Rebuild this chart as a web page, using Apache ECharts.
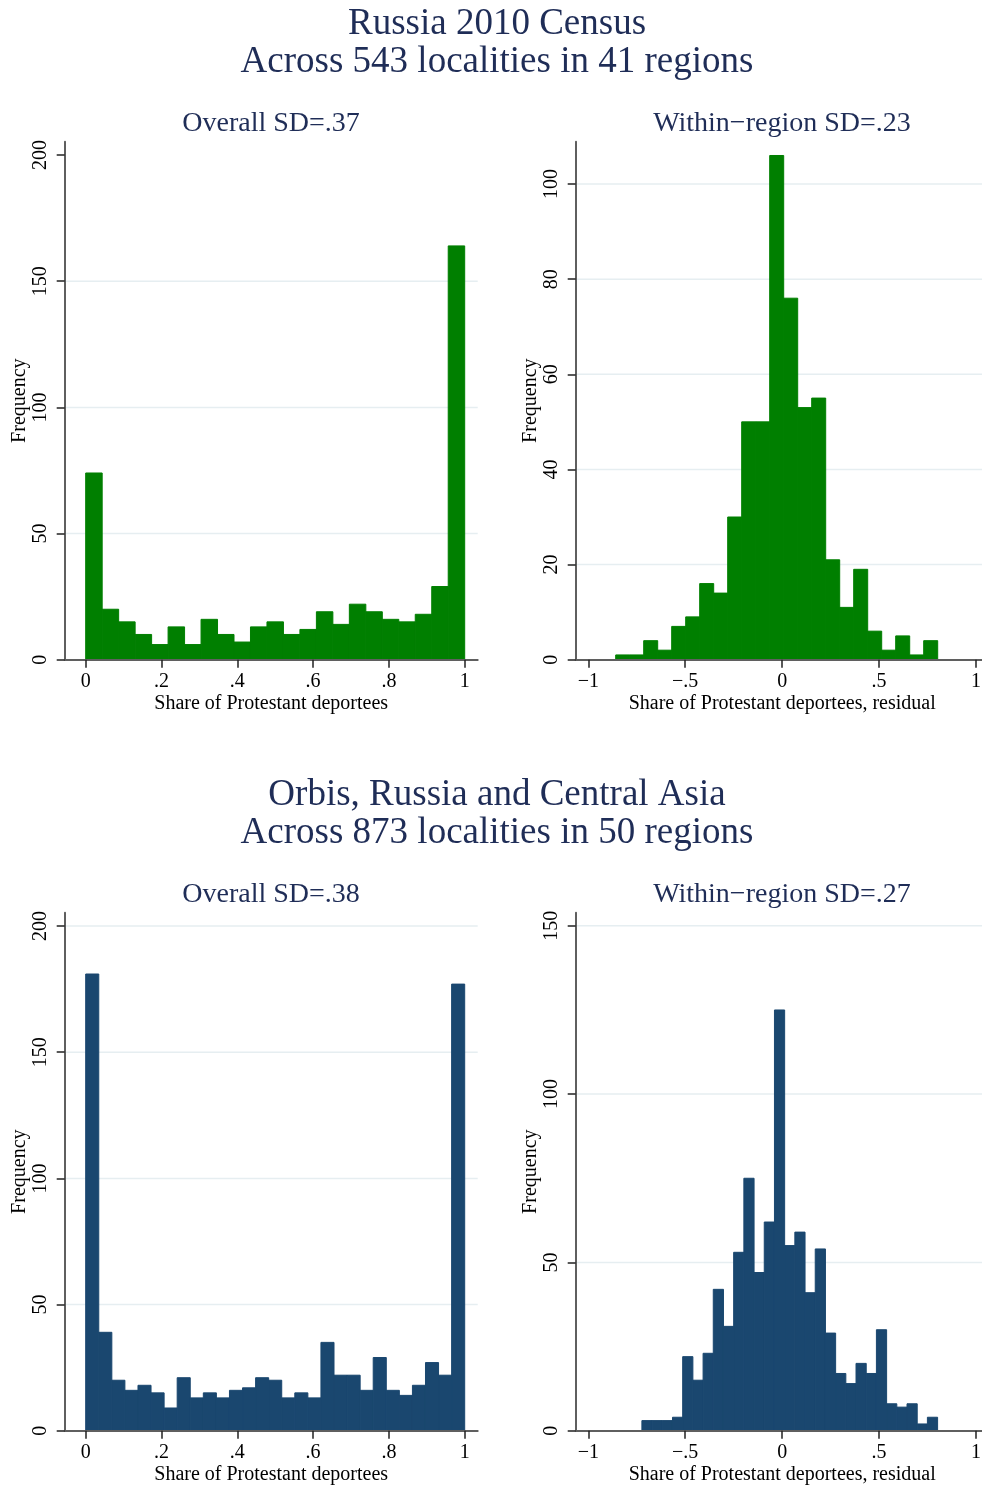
<!DOCTYPE html>
<html><head><meta charset="utf-8">
<script src="https://cdn.jsdelivr.net/npm/echarts@6/dist/echarts.min.js"></script>
<style>html,body{margin:0;padding:0;background:#fff}#c{width:982px;height:1485px}</style>
</head><body><div id="c"></div>
<script>
// ---------- data ----------
const censusOverallCounts = [74,20,15,10,6,13,6,16,10,7,13,15,10,12,19,14,22,19,16,15,18,29,164];
const censusOverallBinStart = 0;
const censusOverallBinWidth = 1 / 23;

const censusResidCounts = [1,1,4,2,7,9,16,14,30,50,50,106,76,53,55,21,11,19,6,2,5,1,4];
const censusResidBinStart = -0.8587;
const censusResidBinWidth = 0.07222;

const orbisOverallCounts = [181,39,20,16,18,15,9,21,13,15,13,16,17,21,20,13,15,13,35,22,22,16,29,16,14,18,27,22,177];
const orbisOverallBinStart = 0;
const orbisOverallBinWidth = 1 / 29;

const orbisResidCounts = [3,3,3,4,22,15,23,42,31,53,75,47,62,125,55,59,41,54,29,17,14,20,17,30,8,7,8,2,4];
const orbisResidBinStart = -0.7235;
const orbisResidBinWidth = 0.0526;

const xTicksShare = [0, 0.2, 0.4, 0.6, 0.8, 1];
const xTickLabelsShare = ['0', '.2', '.4', '.6', '.8', '1'];
const xTicksResid = [-1, -0.5, 0, 0.5, 1];
const xTickLabelsResid = ['\u22121', '\u2212.5', '0', '.5', '1'];

const yTicksCensusOverall = [0, 50, 100, 150, 200];
const yTicksCensusResid = [0, 20, 40, 60, 80, 100];
const yTicksOrbisOverall = [0, 50, 100, 150, 200];
const yTicksOrbisResid = [0, 50, 100, 150];

const gridCensusOverall = [50, 100, 150];
const gridCensusResid = [20, 40, 60, 80, 100];
const gridOrbisOverall = [50, 100, 150, 200];
const gridOrbisResid = [50, 100, 150];

// ---------- styles ----------
const FONT = '"Liberation Serif", "DejaVu Serif", serif';
const TITLE_COLOR = '#1f2d57';
const GREEN = '#007f00';
const NAVY = '#1a476f';

function makeBins(counts, start, width) {
  return counts.map((c, i) => [start + i * width, start + (i + 1) * width, c]);
}
function labelFor(ticks, labels) {
  return function (v) {
    for (let i = 0; i < ticks.length; i++) if (Math.abs(ticks[i] - v) < 1e-9) return labels[i];
    return '';
  };
}
function xAxisCfg(gi, min, max, ticks, labels, name) {
  return {
    type: 'value', gridIndex: gi, min: min, max: max, z: 3,
    axisLine: { show: true, onZero: false, lineStyle: { color: '#5f5f5f', width: 2 } },
    axisTick: { show: true, length: 8, customValues: ticks, lineStyle: { color: '#222', width: 1.5 } },
    axisLabel: { customValues: ticks, formatter: labelFor(ticks, labels), fontFamily: FONT, fontSize: 20, color: '#000', margin: 12 },
    splitLine: { show: false },
    name: name, nameLocation: 'middle', nameGap: 34,
    nameTextStyle: { fontFamily: FONT, fontSize: 20, color: '#000' }
  };
}
function yAxisCfg(gi, max, ticks) {
  const labels = ticks.map(String);
  return {
    type: 'value', gridIndex: gi, min: 0, max: max, z: 3,
    axisLine: { show: true, onZero: false, lineStyle: { color: '#5f5f5f', width: 2 } },
    axisTick: { show: true, length: 8, customValues: ticks, lineStyle: { color: '#222', width: 1.5 } },
    axisLabel: { customValues: ticks, formatter: labelFor(ticks, labels), rotate: 90, fontFamily: FONT, fontSize: 20, color: '#000', margin: 14 },
    splitLine: { show: false },
    name: 'Frequency', nameLocation: 'middle', nameGap: 34, nameRotate: 90,
    nameTextStyle: { fontFamily: FONT, fontSize: 20, color: '#000' }
  };
}
function histSeries(gi, data, color) {
  return {
    type: 'custom', xAxisIndex: gi, yAxisIndex: gi, z: 2, silent: true,
    data: data,
    renderItem: function (params, api) {
      const p0 = api.coord([api.value(0), 0]);
      const p1 = api.coord([api.value(1), api.value(2)]);
      return { type: 'rect', shape: { x: p0[0], y: p1[1], width: p1[0] - p0[0], height: p0[1] - p1[1] },
        style: { fill: color, stroke: color, lineWidth: 1 } };
    }
  };
}
function gridSeries(gi, vals) {
  return {
    type: 'custom', xAxisIndex: gi, yAxisIndex: gi, z: 1, silent: true,
    data: vals.map(v => [v]),
    renderItem: function (params, api) {
      const cs = params.coordSys;
      const y = api.coord([0, api.value(0)])[1];
      return { type: 'line', shape: { x1: cs.x, y1: y, x2: cs.x + cs.width, y2: y },
        style: { stroke: '#e6eef1', lineWidth: 1.5 } };
    },
    encode: { y: 0 }
  };
}
function txt(x, y, text, size) {
  return { type: 'text', x: x, y: y, silent: true,
    style: { text: text, font: size + 'px ' + FONT, fill: TITLE_COLOR, textAlign: 'center', textVerticalAlign: 'middle', align: 'center', verticalAlign: 'middle' } };
}

const OFF = 771;
function gridBox(left, top) {
  return { left: left, top: top, width: 413, height: 518, outerBoundsMode: 'none', containLabel: false };
}
const option = {
  animation: false,
  backgroundColor: '#fff',
  grid: [
    gridBox(64.7, 141.7),
    gridBox(575.7, 141.7),
    gridBox(64.7, 141.7 + OFF),
    gridBox(575.7, 141.7 + OFF)
  ],
  xAxis: [
    xAxisCfg(0, -0.0554, 1.0343, xTicksShare, xTickLabelsShare, 'Share of Protestant deportees'),
    xAxisCfg(1, -1.065, 1.0655, xTicksResid, xTickLabelsResid, 'Share of Protestant deportees, residual'),
    xAxisCfg(2, -0.0554, 1.0343, xTicksShare, xTickLabelsShare, 'Share of Protestant deportees'),
    xAxisCfg(3, -1.065, 1.0655, xTicksResid, xTickLabelsResid, 'Share of Protestant deportees, residual')
  ],
  yAxis: [
    yAxisCfg(0, 205.3, yTicksCensusOverall),
    yAxisCfg(1, 108.9, yTicksCensusResid),
    yAxisCfg(2, 205.3, yTicksOrbisOverall),
    yAxisCfg(3, 153.9, yTicksOrbisResid)
  ],
  series: [
    gridSeries(0, gridCensusOverall),
    gridSeries(1, gridCensusResid),
    gridSeries(2, gridOrbisOverall),
    gridSeries(3, gridOrbisResid),
    histSeries(0, makeBins(censusOverallCounts, censusOverallBinStart, censusOverallBinWidth), GREEN),
    histSeries(1, makeBins(censusResidCounts, censusResidBinStart, censusResidBinWidth), GREEN),
    histSeries(2, makeBins(orbisOverallCounts, orbisOverallBinStart, orbisOverallBinWidth), NAVY),
    histSeries(3, makeBins(orbisResidCounts, orbisResidBinStart, orbisResidBinWidth), NAVY)
  ],
  graphic: [
    txt(497, 24, 'Russia 2010 Census', 37),
    txt(497, 62, 'Across 543 localities in 41 regions', 37),
    txt(271, 124, 'Overall SD=.37', 28),
    txt(782, 124, 'Within\u2212region SD=.23', 28),
    txt(497, 24 + OFF, 'Orbis, Russia and Central Asia', 37),
    txt(497, 62 + OFF, 'Across 873 localities in 50 regions', 37),
    txt(271, 124 + OFF, 'Overall SD=.38', 28),
    txt(782, 124 + OFF, 'Within\u2212region SD=.27', 28)
  ]
};
const chart = echarts.init(document.getElementById('c'), null, { renderer: 'canvas' });
chart.setOption(option);
</script>
</body></html>
